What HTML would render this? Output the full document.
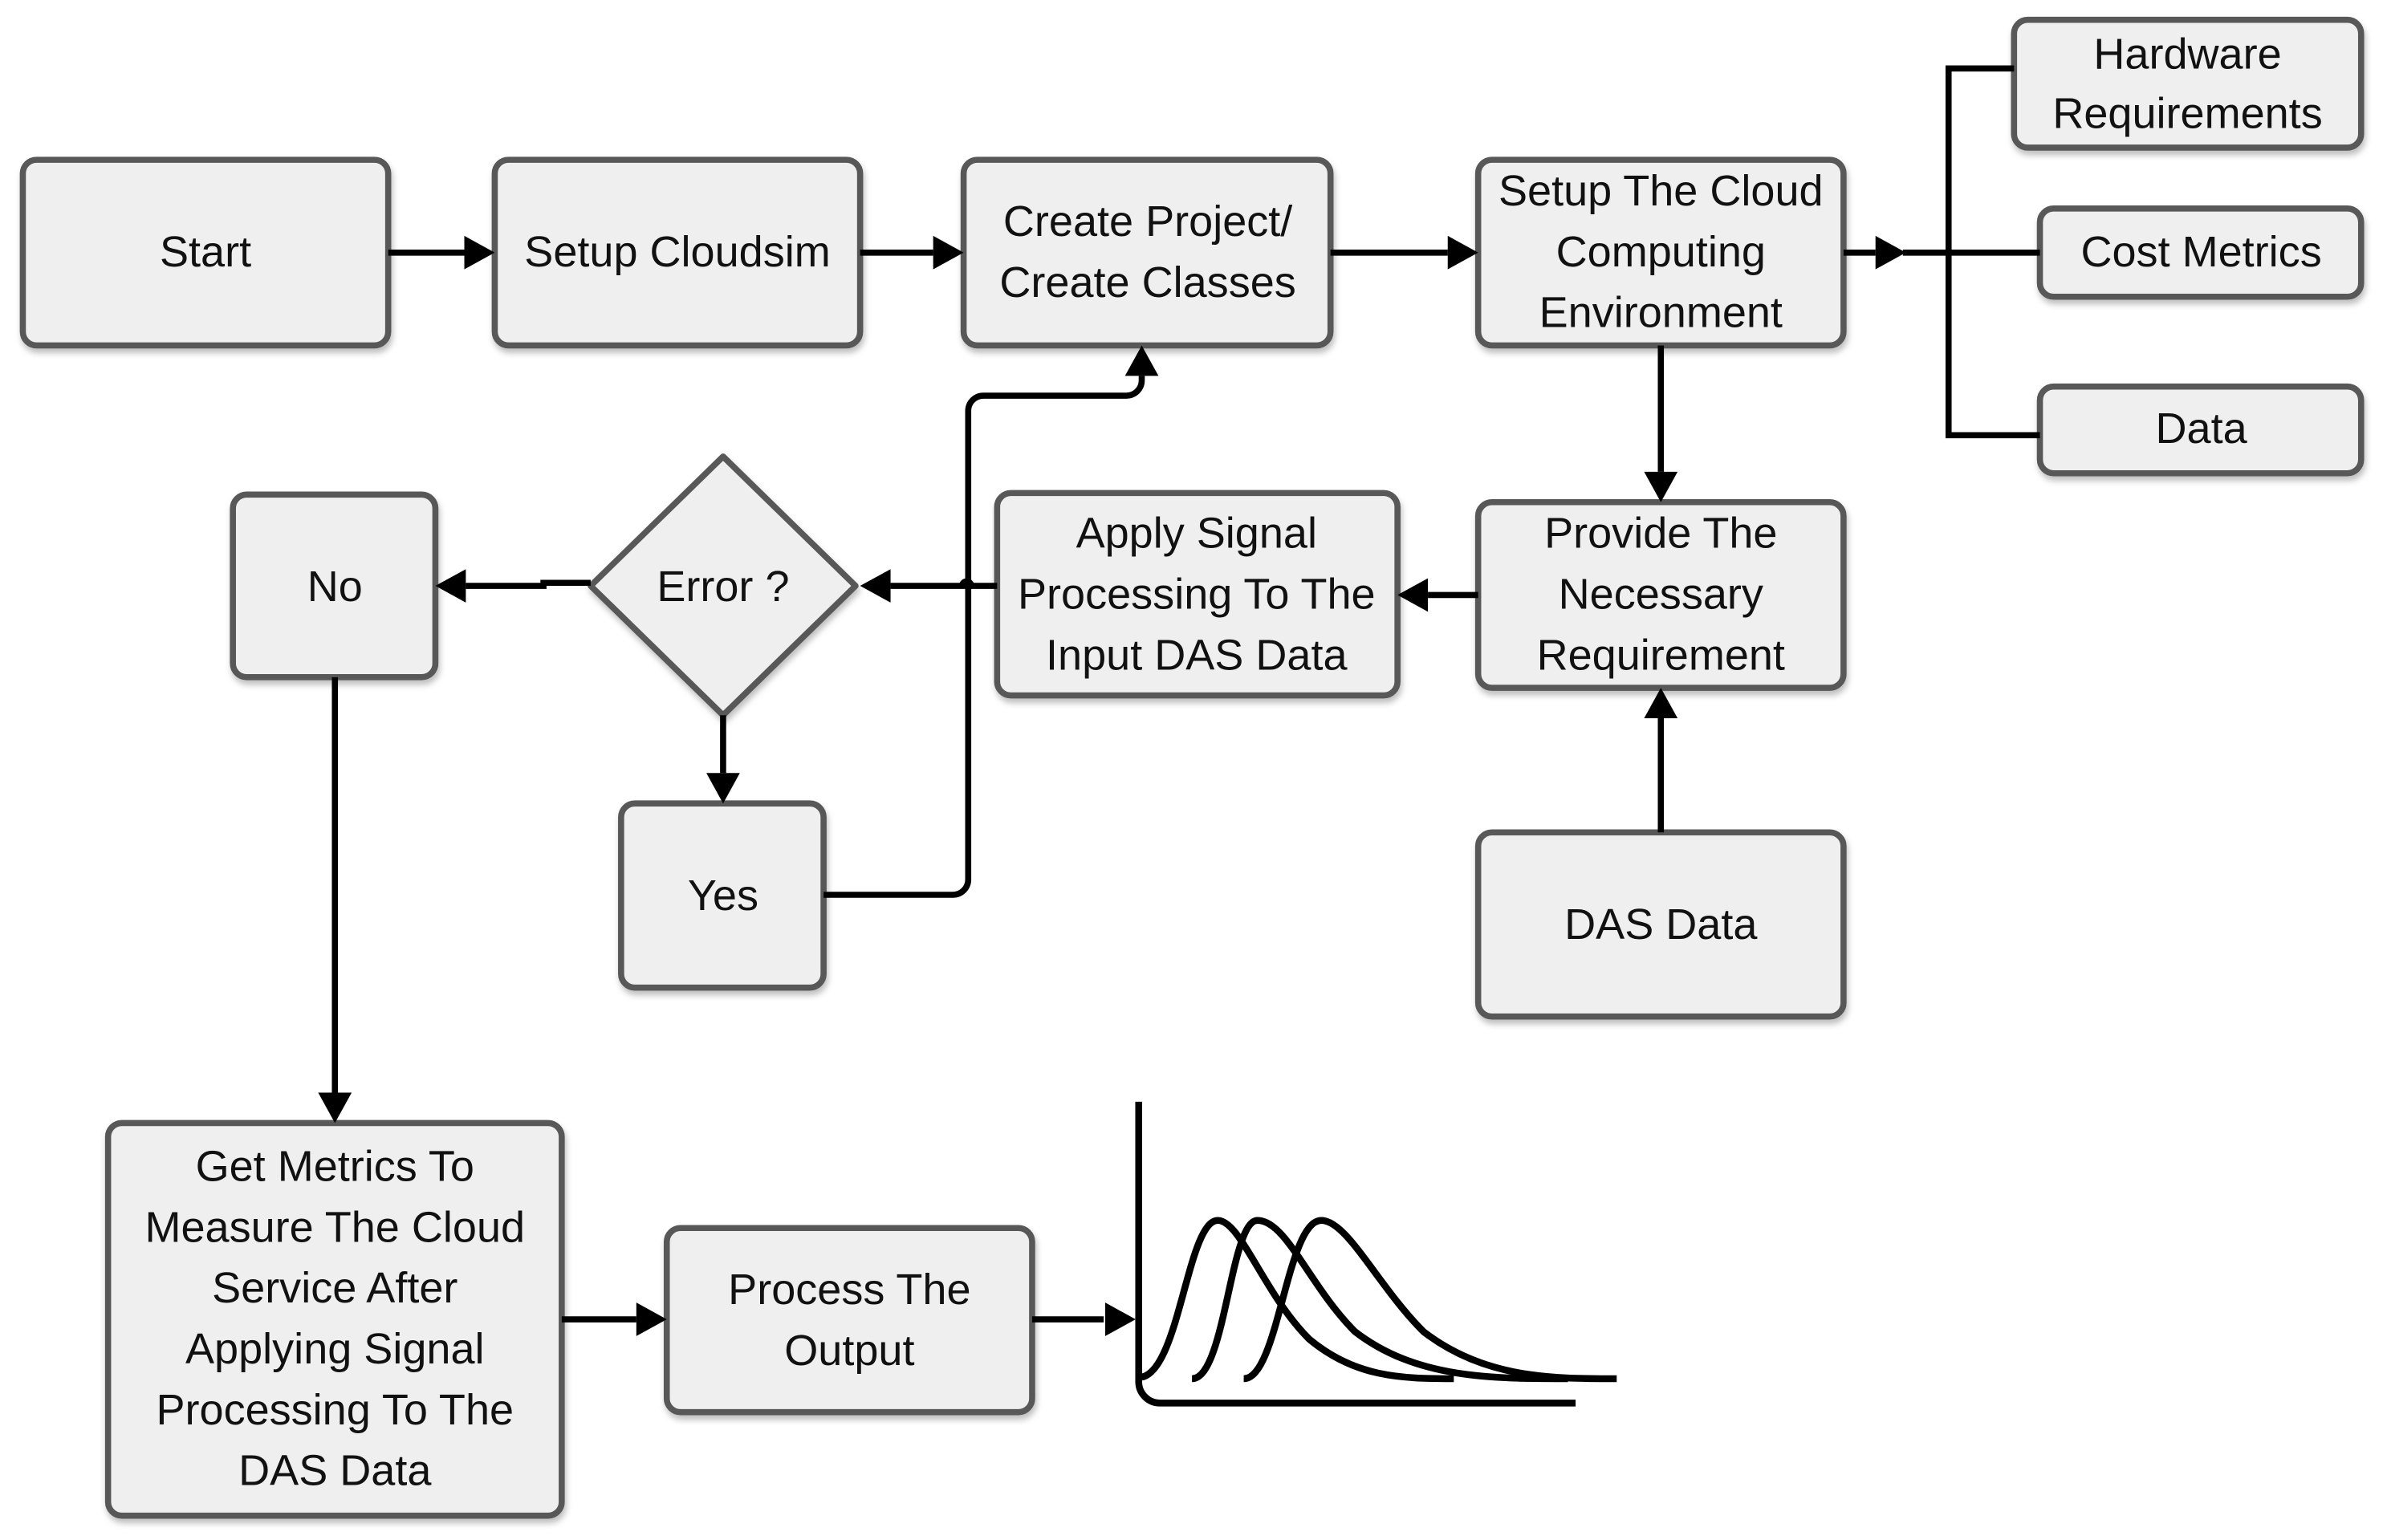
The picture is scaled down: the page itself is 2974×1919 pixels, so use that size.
<!DOCTYPE html>
<html><head><meta charset="utf-8"><style>html,body{margin:0;padding:0;background:#fff}svg{display:block}</style></head>
<body>
<svg width="2974" height="1919" viewBox="0 0 1568 1012" preserveAspectRatio="none" xmlns="http://www.w3.org/2000/svg">
<defs>
<filter id="sh" x="-10%" y="-10%" width="130%" height="130%"><feDropShadow dx="1" dy="3" stdDeviation="2" flood-color="#000" flood-opacity="0.25"/></filter>
</defs>
<g fill="#efefef" stroke="#595959" stroke-width="4" filter="url(#sh)">
<rect x="15" y="105" width="240" height="122" rx="9"/>
<rect x="325" y="105" width="240" height="122" rx="9"/>
<rect x="633" y="105" width="241" height="122" rx="9"/>
<rect x="971" y="105" width="240" height="122" rx="9"/>
<rect x="1323" y="13" width="228" height="84" rx="9"/>
<rect x="1340" y="137" width="211" height="58" rx="9"/>
<rect x="1340" y="254" width="211" height="57" rx="9"/>
<rect x="971" y="330" width="240" height="122" rx="9"/>
<rect x="655" y="324" width="263" height="133" rx="9"/>
<path d="M475 300 L562 385 L475 470 L388 385 Z" stroke-linejoin="round"/>
<rect x="153" y="325" width="133" height="120" rx="9"/>
<rect x="408" y="528" width="133" height="121" rx="9"/>
<rect x="971" y="547" width="240" height="121" rx="9"/>
<rect x="71" y="738" width="298" height="258" rx="9"/>
<rect x="438" y="807" width="240" height="121" rx="9"/>
</g>
<g fill="none" stroke="#000" stroke-width="4">
<path d="M255 166H305M565 166H613M874 166H951M1211 166H1232M1250 166H1340"/>
<path d="M1323 45H1280V286H1340"/>
<path d="M1091 227V310M971 391H938M655 385H638a3 3 0 0 0 -6 0H585M388 383H357V385H306"/>
<path d="M475 470V508M541 588H626a10 10 0 0 0 10 -10V270a10 10 0 0 1 10 -10H740a10 10 0 0 0 10 -10V247"/>
<path d="M220 445V718M1091 547V472M369 867H418M678 867H725"/>
</g>
<g fill="none" stroke="#000" stroke-width="4.5">
<path d="M748 724V908a14 14 0 0 0 14 14H1035"/>
<path d="M750 905C775 900 780 802 800 802C815 802 830 850 860 880C890 905 920 906 955 906"/>
<path d="M783 906C805 906 808 802 826 802C845 802 860 845 890 875C930 906 980 906 1030 906"/>
<path d="M817 906C840 906 845 802 868 802C885 802 905 845 935 875C975 906 1020 906 1062 906"/>
</g>
<g fill="#000">
<path d="M325 166l-20 -11v22z"/>
<path d="M633 166l-20 -11v22z"/>
<path d="M971 166l-20 -11v22z"/>
<path d="M1252 166l-20 -11v22z"/>
<path d="M1091 330l-11 -20h22z"/>
<path d="M918 391l20 -11v22z"/>
<path d="M565 385l20 -11v22z"/>
<path d="M286 385l20 -11v22z"/>
<path d="M475 528l-11 -20h22z"/>
<path d="M750 227l-11 20h22z"/>
<path d="M220 738l-11 -20h22z"/>
<path d="M1091 452l-11 20h22z"/>
<path d="M438 867l-20 -11v22z"/>
<path d="M746 867l-20 -11v22z"/>
</g>
<g font-family="Liberation Sans, sans-serif" font-size="28.5" fill="#111" text-anchor="middle">
<text x="135" y="175">Start</text>
<text x="445" y="175">Setup Cloudsim</text>
<text x="754" y="155">Create Project/</text>
<text x="754" y="195">Create Classes</text>
<text x="1091" y="135">Setup The Cloud</text>
<text x="1091" y="175">Computing</text>
<text x="1091" y="215">Environment</text>
<text x="1437" y="45">Hardware</text>
<text x="1437" y="84">Requirements</text>
<text x="1446" y="175">Cost Metrics</text>
<text x="1446" y="291">Data</text>
<text x="1091" y="360">Provide The</text>
<text x="1091" y="400">Necessary</text>
<text x="1091" y="440">Requirement</text>
<text x="786" y="360">Apply Signal</text>
<text x="786" y="400">Processing To The</text>
<text x="786" y="440">Input DAS Data</text>
<text x="475" y="395">Error ?</text>
<text x="220" y="395">No</text>
<text x="475" y="598">Yes</text>
<text x="1091" y="617">DAS Data</text>
<text x="220" y="776">Get Metrics To</text>
<text x="220" y="816">Measure The Cloud</text>
<text x="220" y="856">Service After</text>
<text x="220" y="896">Applying Signal</text>
<text x="220" y="936">Processing To The</text>
<text x="220" y="976">DAS Data</text>
<text x="558" y="857">Process The</text>
<text x="558" y="897">Output</text>
</g>
</svg>
</body></html>
